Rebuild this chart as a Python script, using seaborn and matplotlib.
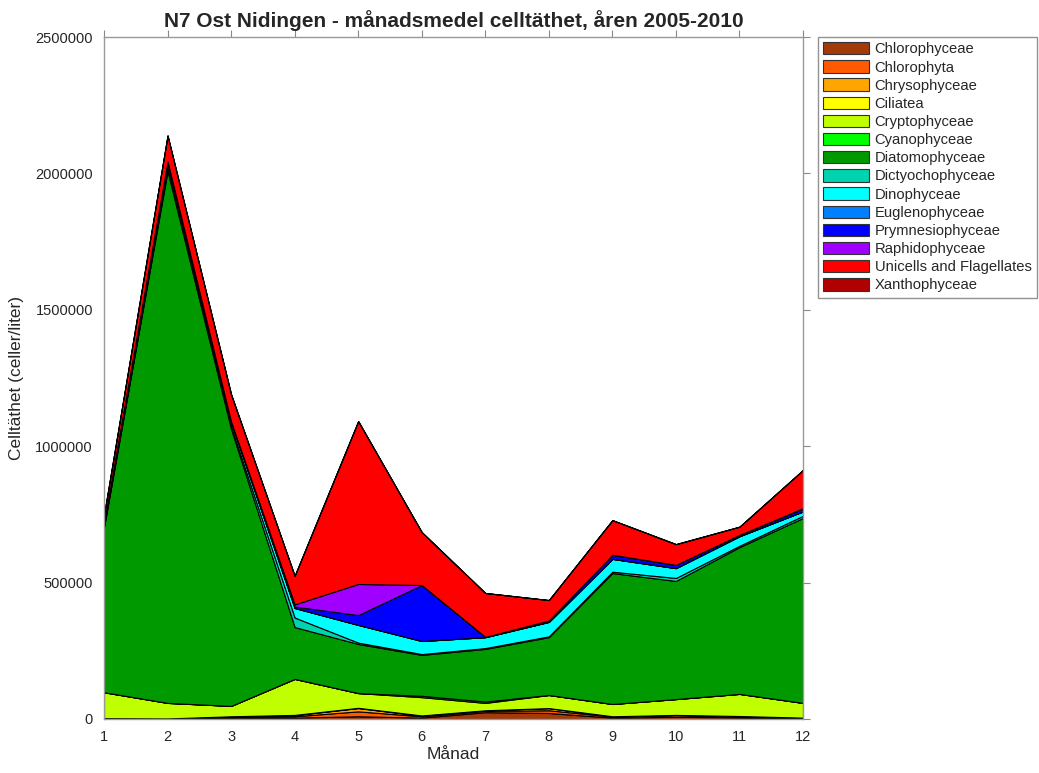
import numpy as np
import pandas as pd
import matplotlib
matplotlib.use("Agg")
import matplotlib.pyplot as plt
import seaborn as sns
from matplotlib.patches import Patch

months = list(range(1, 13))

# values in cells/liter (thousands, multiplied below)
chlorophyceae = [2, 1, 5, 5, 10, 5, 25, 22, 5, 8, 6, 2]
chlorophyta = [1, 1, 4, 5, 18, 5, 5, 10, 4, 6, 4, 2]
chrysophyceae = [0, 0, 1, 4, 12, 2, 2, 8, 1, 1, 1, 1]
ciliatea = [0, 0, 0, 1, 1, 1, 0, 0, 0, 0, 0, 0]
cryptophyceae = [95, 57, 38, 132, 54, 67, 27, 48, 45, 58, 81, 54]
cyanophyceae = [0, 0, 0, 0, 0, 5, 5, 0, 0, 0, 0, 0]
diatomophyceae = [605, 1950, 1015, 190, 180, 150, 193, 212, 480, 433, 538, 678]
dictyochophyceae = [5, 12, 10, 35, 5, 3, 3, 3, 5, 11, 5, 8]
dinophyceae = [10, 20, 15, 35, 65, 48, 40, 53, 47, 36, 35, 16]
euglenophyceae = [0, 0, 0, 0, 0, 0, 0, 0, 0, 0, 0, 0]
prymnesiophyceae = [2, 3, 2, 5, 36, 205, 1, 5, 15, 12, 5, 10]
raphidophyceae = [0, 0, 0, 8, 114, 0, 0, 0, 0, 0, 0, 2]
unicells = [28, 95, 100, 105, 597, 194, 161, 75, 127, 76, 30, 140]
xanthophyceae = [0, 0, 0, 0, 0, 0, 0, 0, 0, 0, 0, 0]

names = ["Chlorophyceae", "Chlorophyta", "Chrysophyceae", "Ciliatea",
         "Cryptophyceae", "Cyanophyceae", "Diatomophyceae", "Dictyochophyceae",
         "Dinophyceae", "Euglenophyceae", "Prymnesiophyceae", "Raphidophyceae",
         "Unicells and Flagellates", "Xanthophyceae"]
series = [chlorophyceae, chlorophyta, chrysophyceae, ciliatea, cryptophyceae,
          cyanophyceae, diatomophyceae, dictyochophyceae, dinophyceae,
          euglenophyceae, prymnesiophyceae, raphidophyceae, unicells, xanthophyceae]
colors = ["#A33A0A", "#FF5A00", "#FFA500", "#FFFF00", "#BFFF00", "#00FF00",
          "#009900", "#00D4AE", "#00FFFF", "#0080FF", "#0000FF", "#A000FF",
          "#FF0000", "#B00000"]

df = pd.DataFrame({n: np.array(s) * 1000 for n, s in zip(names, series)}, index=months)

sns.set_theme(style="white")
plt.rcParams['font.family'] = ['Liberation Sans', 'DejaVu Sans']

fig = plt.figure(figsize=(10.39, 7.73), dpi=100)
ax = fig.add_axes([104/1039, 1-719/773, (803-104)/1039, (719-37)/773])

ax.stackplot(df.index, [df[n].values for n in names], colors=colors,
             edgecolor="black", linewidth=0.8)

ax.set_xlim(1, 12)
ax.set_ylim(0, 2500000)
ax.set_xticks(months)
ax.set_yticks([0, 500000, 1000000, 1500000, 2000000, 2500000])
ax.set_yticklabels(["0", "500000", "1000000", "1500000", "2000000", "2500000"])
ax.tick_params(axis="both", which="both", direction="out", length=5, width=0.8,
               color="#888888", labelsize=10.5, top=True, right=True,
               labeltop=False, labelright=False, pad=3)
for sp in ax.spines.values():
    sp.set_color("#999999")
    sp.set_linewidth(1.0)

ax.set_xlabel("Månad", fontsize=12.5, labelpad=2)
ax.set_ylabel("Celltäthet (celler/liter)", fontsize=12.5, labelpad=8)
ax.set_title("N7 Ost Nidingen - månadsmedel celltäthet, åren 2005-2010",
             fontsize=15, fontweight="bold", pad=7)

handles = [Patch(facecolor=c, edgecolor="#333333", linewidth=0.8) for c in colors]
leg = fig.legend(handles, names, loc="upper left",
                 bbox_to_anchor=(818/1039, 1-37/773), fontsize=10.6,
                 frameon=True, fancybox=False, handlelength=3.1, handleheight=0.9,
                 labelspacing=0.27, handletextpad=0.4, borderpad=0.35,
                 borderaxespad=0)
leg.get_frame().set_edgecolor("#777777")
leg.get_frame().set_linewidth(1.0)

fig.savefig("out.png", dpi=100)
